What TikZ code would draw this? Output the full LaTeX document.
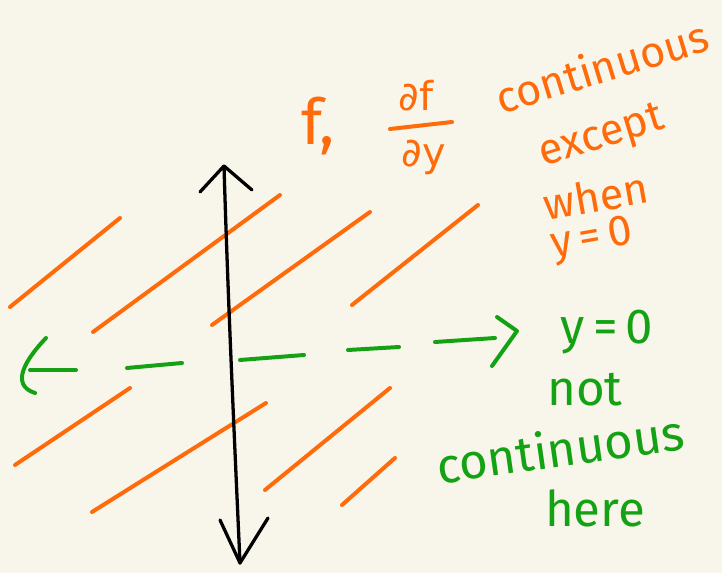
\documentclass[tikz,border=0pt]{standalone}
\usepackage{fontspec}
\setsansfont{Fira Sans}
\newfontfamily\symfont{DejaVu Sans}
\usetikzlibrary{positioning}
\definecolor{paper}{HTML}{F8F6EA}
\definecolor{pen orange}{HTML}{FF6A0A}
\definecolor{pen green}{HTML}{14A214}
\tikzset{
  ink/.style={line width=3.4pt,line cap=round,line join=round},
  hatch/.style={ink,pen orange},
  axis x/.style={ink,pen green},
  axis y/.style={line width=2.8pt,line cap=round,line join=round,black},
  note/.style={font=\sffamily\fontsize{42}{44}\selectfont,inner sep=0pt},
  small note/.style={note,font=\sffamily\fontsize{37}{39}\selectfont},
}
\begin{document}
\begin{tikzpicture}[x=0.03cm,y=-0.03cm]
  % paper
  \fill[paper] (0,0) rectangle (722,573);
  \useasboundingbox (0,0) rectangle (722,573);
  % orange hatching (region where f is continuous)
  \draw[hatch] (10,307) -- (120,218);
  \draw[hatch] (93,332) -- (280,195);
  \draw[hatch] (212,325) -- (370,212);
  \draw[hatch] (352,305) -- (478,205);
  \draw[hatch] (15,465) -- (130,388);
  \draw[hatch] (92,512) -- (266,403);
  \draw[hatch] (265,490) -- (390,388);
  \draw[hatch] (342,505) -- (395,458);
  % vertical axis
  \coordinate (ytop) at (224,166);
  \coordinate (ybot) at (240,563);
  \draw[axis y] (ytop) .. controls (228,300) and (234,430) .. (ybot);
  \draw[axis y] (200,192) -- (ytop) -- (252,190);
  \draw[axis y] (220,520) -- (ybot) -- (268,518);
  % horizontal axis y=0, dashed by hand
  \draw[axis x] (46,338) .. controls (25,360) and (10,385) .. (35,393);
  \draw[axis x] (30,370) -- (76,370);
  \draw[axis x] (127,368) -- (182,363);
  \draw[axis x] (240,360) -- (304,355);
  \draw[axis x] (348,350) -- (399,347);
  \draw[axis x] (435,342) -- (495,338);
  \draw[axis x] (497,317) -- (517,331) -- (492,366);
  % green labels
  \node[note,pen green] (yzero) at (607,332) {y\,=\,0};
  \node[note,pen green] (notlbl) at (585,390) {not};
  \node[note,pen green,rotate=8] (contlbl) at (560,448) {continuous};
  \node[note,pen green] (herelbl) at (595,508) {here};
  % orange labels
  \node[note,pen orange,font=\sffamily\fontsize{54}{56}\selectfont] (flbl) at (318,126) {f,};
  \node[note,pen orange,font=\symfont\fontsize{34}{36}\selectfont] (dftop) at (416,96) {∂f};
  \node[note,pen orange,font=\symfont\fontsize{34}{36}\selectfont] (dybot) at (424,157) {∂y};
  \draw[hatch] (390,129) -- (452,122);
  \node[small note,pen orange,rotate=17] (cont2) at (602,66) {continuous};
  \node[small note,pen orange,rotate=17] (exclbl) at (602,138) {except};
  \node[small note,pen orange,rotate=10] (whenlbl) at (596,196) {when};
  \node[small note,pen orange,rotate=10] (ylbl) at (592,240) {y\,=\,0};
\end{tikzpicture}
\end{document}
